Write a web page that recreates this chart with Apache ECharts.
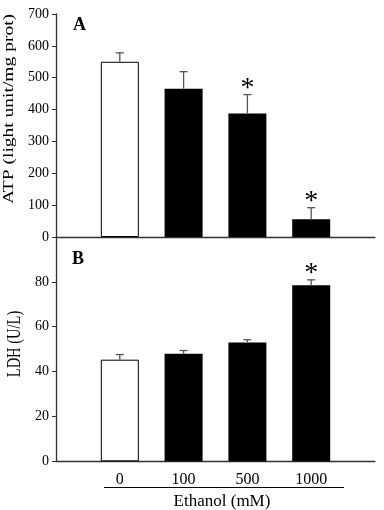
<!DOCTYPE html>
<html>
<head>
<meta charset="utf-8">
<script src="https://cdn.jsdelivr.net/npm/echarts@6/dist/echarts.min.js"></script>
<style>html,body{margin:0;padding:0;background:#fff;}#c{width:384px;height:510px;}</style>
</head>
<body>
<div id="c"></div>
<script>
var categories = ['0', '100', '500', '1000'];
var atpValues = [550, 465, 388, 56];
var atpErrors = [28, 54, 59, 36];
var atpSignificant = [false, false, true, true];
var ldhValues = [45.3, 47.9, 53.0, 78.5];
var ldhErrors = [2.3, 1.5, 1.2, 2.4];
var ldhSignificant = [false, false, false, true];
var atpTicks = [0, 100, 200, 300, 400, 500, 600, 700];
var ldhTicks = [0, 20, 40, 60, 80];

var FONT = 'Liberation Serif';
var xCats = [''].concat(categories).concat(['']);

function barData(vals) {
  return vals.map(function (v, i) {
    return {
      value: [i + 1, v],
      itemStyle: i === 0 ? { color: '#fff', borderColor: '#000', borderWidth: 1 } : { color: '#000' }
    };
  });
}
function errData(vals, errs, sig) {
  return vals.map(function (v, i) { return [i + 1, v, v + errs[i], sig[i] ? 1 : 0]; });
}
function errRender(params, api) {
  var x = api.value(0);
  var top = api.coord([x, api.value(1)]);
  var hi = api.coord([x, api.value(2)]);
  var children = [
    { type: 'line', shape: { x1: top[0], y1: top[1], x2: hi[0], y2: hi[1] }, style: { stroke: '#555', lineWidth: 1.3 } },
    { type: 'line', shape: { x1: hi[0] - 4, y1: hi[1], x2: hi[0] + 4, y2: hi[1] }, style: { stroke: '#555', lineWidth: 1.3 } }
  ];
  if (api.value(3) === 1) {
    children.push({ type: 'text', style: { text: '*', x: hi[0], y: hi[1] + 8, align: 'center', verticalAlign: 'bottom', font: '28px ' + FONT, fill: '#000' } });
  }
  return { type: 'group', children: children };
}

var chart = echarts.init(document.getElementById('c'), null, { renderer: 'canvas' });
var axisLine = { show: true, lineStyle: { color: '#333', width: 1.3 } };
chart.setOption({
  animation: false,
  backgroundColor: '#fff',
  grid: [
    { left: 56, top: 14, width: 319, height: 223, outerBoundsMode: 'none', containLabel: false },
    { left: 56, top: 237, width: 319, height: 224.3, outerBoundsMode: 'none', containLabel: false }
  ],
  xAxis: [
    { type: 'category', gridIndex: 0, data: xCats, boundaryGap: false, axisLine: axisLine, axisTick: { show: false }, axisLabel: { show: false }, splitLine: { show: false } },
    { type: 'category', gridIndex: 1, data: xCats, boundaryGap: false, axisLine: axisLine, axisTick: { show: false },
      axisLabel: { show: true, interval: 0, margin: 10, color: '#000', fontFamily: FONT, fontSize: 16 }, splitLine: { show: false } }
  ],
  yAxis: [
    { type: 'value', gridIndex: 0, min: atpTicks[0], max: atpTicks[atpTicks.length - 1], interval: 100,
      axisLine: axisLine, axisTick: { show: true, length: 4, lineStyle: { color: '#333' } },
      axisLabel: { color: '#000', fontFamily: FONT, fontSize: 14, margin: 7, hideOverlap: false }, splitLine: { show: false } },
    { type: 'value', gridIndex: 1, min: 0, max: 100, interval: 20,
      axisLine: axisLine, axisTick: { show: true, length: 4, lineStyle: { color: '#333' } },
      axisLabel: { color: '#000', fontFamily: FONT, fontSize: 14, margin: 7, hideOverlap: false, formatter: function (v) { return ldhTicks.indexOf(v) >= 0 ? String(v) : ''; } }, splitLine: { show: false } }
  ],
  series: [
    { type: 'bar', xAxisIndex: 0, yAxisIndex: 0, barWidth: 38, data: barData(atpValues), z: 2 },
    { type: 'custom', xAxisIndex: 0, yAxisIndex: 0, renderItem: errRender, data: errData(atpValues, atpErrors, atpSignificant), z: 3 },
    { type: 'bar', xAxisIndex: 1, yAxisIndex: 1, barWidth: 38, data: barData(ldhValues), z: 2 },
    { type: 'custom', xAxisIndex: 1, yAxisIndex: 1, renderItem: errRender, data: errData(ldhValues, ldhErrors, ldhSignificant), z: 3 }
  ],
  graphic: [
    { type: 'text', x: 9, y: 109, rotation: Math.PI / 2, scaleX: 1.3,
      style: { text: 'ATP (light unit/mg prot)', font: '15px ' + FONT, fill: '#000', align: 'center', verticalAlign: 'middle' } },
    { type: 'text', x: 15.5, y: 344, rotation: Math.PI / 2, scaleY: 1.25,
      style: { text: 'LDH (U/L)', font: '14.5px ' + FONT, fill: '#000', align: 'center', verticalAlign: 'middle' } },
    { type: 'text', left: 73, top: 16, style: { text: 'A', font: 'bold 18px ' + FONT, fill: '#000' } },
    { type: 'text', left: 72, top: 250, style: { text: 'B', font: 'bold 18px ' + FONT, fill: '#000' } },
    { type: 'line', shape: { x1: 104, y1: 487.5, x2: 344, y2: 487.5 }, style: { stroke: '#000', lineWidth: 1 } },
    { type: 'text', x: 222, y: 502, style: { text: 'Ethanol (mM)', font: '17px ' + FONT, fill: '#000', align: 'center', verticalAlign: 'middle' } }
  ]
});
</script>
</body>
</html>
